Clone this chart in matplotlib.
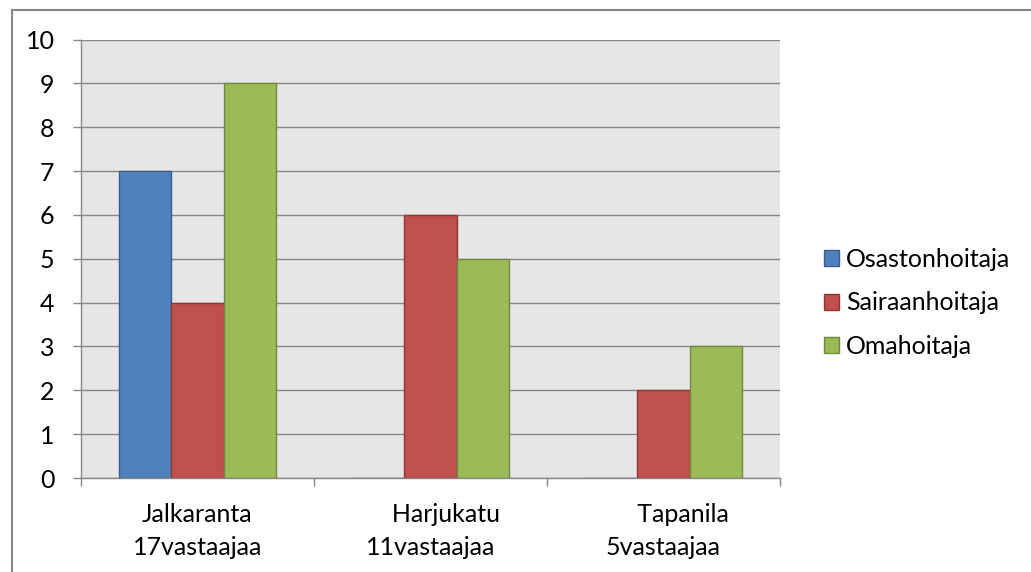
import matplotlib
matplotlib.use("Agg")
import matplotlib.pyplot as plt
from matplotlib.lines import Line2D
import numpy as np

plt.rcParams['font.family'] = ['Lato', 'DejaVu Sans']

# Survey data: respondents per unit and role
categories = ["Jalkaranta\n17vastaajaa", "     Harjukatu\n11vastaajaa", "      Tapanila\n5vastaajaa"]
series_names = ["Osastonhoitaja", "Sairaanhoitaja", "Omahoitaja"]
osastonhoitaja = [7, 0, 0]
sairaanhoitaja = [4, 6, 2]
omahoitaja = [9, 5, 3]
y_ticks = list(range(0, 11))

fills = ["#4F81BD", "#C0504D", "#9BBB59"]
edges = ["#385D8A", "#8C3836", "#71893F"]
grid_gray = "#868686"

fig = plt.figure(figsize=(10.31, 5.72), dpi=100)
W, H = 1031, 572
ax = fig.add_axes([81 / W, 1 - 478 / H, (780 - 81) / W, (478 - 39.5) / H])
ax.set_facecolor("#E6E6E6")

x = np.arange(len(categories))
width = 0.224
for i, (vals, fc, ec, name) in enumerate(zip([osastonhoitaja, sairaanhoitaja, omahoitaja],
                                             fills, edges, series_names)):
    ax.bar(x + (i - 1) * width, vals, width, color=fc, edgecolor=ec,
           linewidth=1.0, label=name, zorder=2)

ax.set_xlim(-0.5, len(categories) - 0.5)
ax.set_ylim(0, 10)
ax.set_yticks(y_ticks)
ax.set_yticklabels([str(t) for t in y_ticks])
ax.yaxis.grid(True, color=grid_gray, linewidth=1.0, zorder=0.5)
ax.set_axisbelow(True)

# Category boundaries carry the x tick marks; labels sit in the middle of each category
ax.set_xticks(np.arange(len(categories) + 1) - 0.5)
ax.set_xticklabels([])
ax.set_xticks(x, minor=True)
ax.set_xticklabels(categories, minor=True, fontsize=18, linespacing=1.55)
ax.tick_params(axis='x', which='minor', length=0, pad=18)
ax.tick_params(axis='x', which='major', length=6, width=1.0, color=grid_gray)
ax.tick_params(axis='y', length=6, width=1.0, color=grid_gray, labelsize=18, pad=13)

for side in ["top", "right"]:
    ax.spines[side].set_visible(False)
for side in ["left", "bottom"]:
    ax.spines[side].set_color(grid_gray)
    ax.spines[side].set_linewidth(1.0)

leg = ax.legend(loc="center left", bbox_to_anchor=(811 / W, 1 - 303 / H),
                bbox_transform=fig.transFigure, frameon=False, fontsize=18,
                handlelength=0.6, handleheight=0.6, handletextpad=0.3,
                labelspacing=0.82, borderpad=0.0)

# Chart frame (top and left edges visible within the canvas)
fig.add_artist(Line2D([12 / W, 1.0], [1 - 9.5 / H, 1 - 9.5 / H], color=grid_gray,
                      linewidth=1.5, transform=fig.transFigure))
fig.add_artist(Line2D([12 / W, 12 / W], [0.0, 1 - 9.5 / H], color=grid_gray,
                      linewidth=1.5, transform=fig.transFigure))

fig.savefig("out.png", dpi=100)
